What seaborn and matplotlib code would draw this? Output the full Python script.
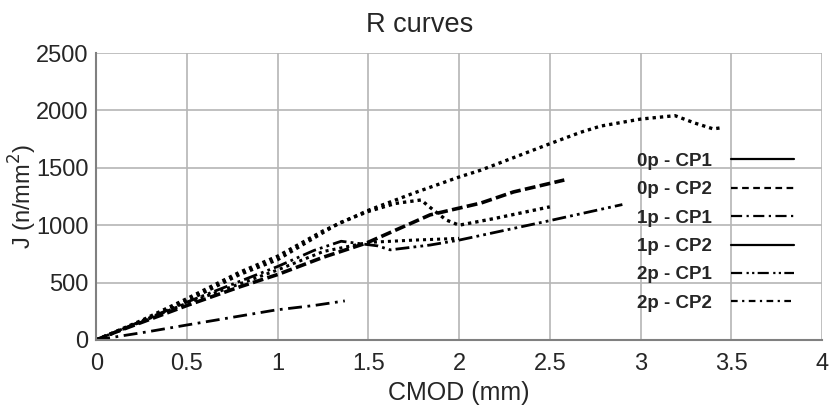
import numpy as np
import pandas as pd
import matplotlib
matplotlib.use('Agg')
import matplotlib.pyplot as plt
import seaborn as sns
from matplotlib.lines import Line2D

# Data (CMOD in mm, J in n/mm^2)
x_0p_cp1 = [0, 0.25, 0.5, 0.79, 1.0, 1.25, 1.5, 1.75, 2.0, 2.12, 2.5, 2.67, 2.78, 3.0, 3.19, 3.3, 3.4, 3.45]
y_0p_cp1 = [0, 170, 360, 590, 730, 950, 1130, 1280, 1420, 1480, 1710, 1810, 1864, 1925, 1955, 1890, 1840, 1850]

x_0p_cp2 = [0, 0.25, 0.5, 0.79, 1.0, 1.34, 1.5, 1.65, 1.79, 1.86, 1.93, 2.0, 2.2, 2.35, 2.5]
y_0p_cp2 = [0, 160, 340, 570, 700, 1020, 1120, 1190, 1220, 1130, 1045, 1000, 1060, 1110, 1160]

x_1p_cp1 = [0, 0.28, 0.5, 0.99, 1.2, 1.37]
y_1p_cp1 = [0, 70, 130, 261, 300, 340]

x_1p_cp2 = [0, 0.11, 0.5, 0.79, 1.0, 1.25, 1.49, 1.84, 2.12, 2.3, 2.58]
y_1p_cp2 = [0, 70, 300, 462, 570, 720, 845, 1090, 1193, 1290, 1394]

x_2p_cp1 = [0, 0.5, 1.0, 1.25, 1.5, 1.75, 2.0]
y_2p_cp1 = [0, 320, 610, 770, 850, 870, 885]

x_2p_cp2 = [0, 0.5, 1.0, 1.2, 1.35, 1.55, 1.62, 1.84, 2.0, 2.5, 2.7, 2.9]
y_2p_cp2 = [0, 330, 640, 780, 860, 820, 785, 827, 870, 1040, 1110, 1180]

labels = ['0p - CP1', '0p - CP2', '1p - CP1', '1p - CP2', '2p - CP1', '2p - CP2']
xs = [x_0p_cp1, x_0p_cp2, x_1p_cp1, x_1p_cp2, x_2p_cp1, x_2p_cp2]
ys = [y_0p_cp1, y_0p_cp2, y_1p_cp1, y_1p_cp2, y_2p_cp1, y_2p_cp2]

# how each curve is drawn in the plot vs. the sample shown in the legend
plot_styles = [(0, (1, 1.2)), (0, (1, 1.2)), (0, (5, 2, 1, 2)), (0, (3, 1.2)), (0, (1, 1.3)), (0, (5, 1.5, 1, 1.5, 1, 1.5))]
plot_widths = [2.4, 2.4, 2.0, 2.6, 2.2, 2.0]
legend_styles = ['-', (0, (3, 2)), (0, (5, 2, 1, 2)), '-', (0, (5, 2, 1, 1.5, 1, 1.5)), (0, (3, 2, 1, 2))]

sns.set_style('whitegrid')
plt.rcParams['font.family'] = ['Liberation Sans', 'DejaVu Sans']

fig, ax = plt.subplots(figsize=(8.37, 4.12), dpi=100)
fig.subplots_adjust(left=0.115, right=0.982, top=0.871, bottom=0.175)

rows = []
for lab, xv, yv in zip(labels, xs, ys):
    for a, b in zip(xv, yv):
        rows.append({'CMOD': a, 'J': b, 'series': lab})
df = pd.DataFrame(rows)

for lab, ls, lw in zip(labels, plot_styles, plot_widths):
    sub = df[df['series'] == lab]
    sns.lineplot(data=sub, x='CMOD', y='J', ax=ax, color='black', lw=lw,
                 linestyle=ls, sort=False, estimator=None, legend=False)

# legend with its own line samples
handles = [Line2D([0], [0], color='black', lw=1.6, linestyle=ls) for ls in legend_styles]
leg = ax.legend(handles, labels, loc='center left', bbox_to_anchor=(0.722, 0.375),
                frameon=False, markerfirst=False, handlelength=3.4,
                labelspacing=0.6, handletextpad=1.0,
                prop={'weight': 'bold', 'size': 13.5})

ax.set_xlim(0, 4)
ax.set_ylim(0, 2500)
ax.set_xticks(np.arange(0, 4.01, 0.5))
ax.set_xticklabels(['0', '0.5', '1', '1.5', '2', '2.5', '3', '3.5', '4'])
ax.set_yticks(np.arange(0, 2501, 500))
ax.tick_params(axis='x', labelsize=17, pad=6)
ax.tick_params(axis='y', labelsize=17, pad=2)
ax.grid(True, color='#b5b5b5', lw=1.2)
for s in ['top', 'right']:
    ax.spines[s].set_visible(False)
for s in ['left', 'bottom']:
    ax.spines[s].set_color('#808080')
    ax.spines[s].set_linewidth(1.5)

ax.set_xlabel('CMOD (mm)', fontsize=18, labelpad=4)
ax.set_ylabel('J (n/mm$^2$)', fontsize=17, labelpad=-2)
ax.set_title('R curves', fontsize=19.5, pad=15, x=0.445)

plt.savefig('out.png', dpi=100)
